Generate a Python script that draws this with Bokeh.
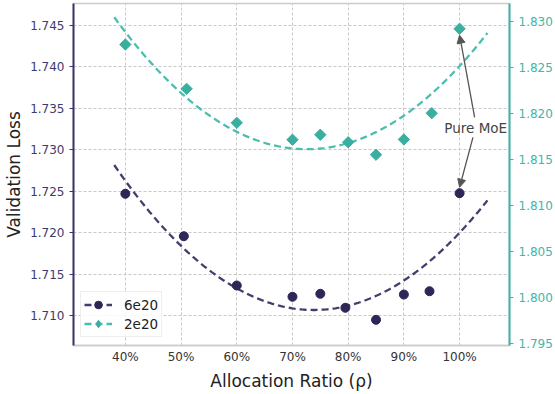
import numpy as np
from bokeh.plotting import figure
from bokeh.models import (Range1d, LinearAxis, FixedTicker, PrintfTickFormatter,
                          Legend, LegendItem, Label, Arrow, NormalHead)
from bokeh.embed import file_html
from bokeh.resources import INLINE

# ---- data ----
ratio_6e20 = [40, 50.5, 60, 70, 75, 79.5, 85, 90, 94.6, 100]
loss_6e20 = [1.72469, 1.71957, 1.71362, 1.71226, 1.71262, 1.71093, 1.70948, 1.71253, 1.71293, 1.72476]
ratio_2e20 = [40, 51, 60, 70, 75, 80, 85, 90, 95, 100]
loss_2e20 = [1.82750, 1.82269, 1.81900, 1.81716, 1.81770, 1.81689, 1.81553, 1.81719, 1.82004, 1.82921]
x_ticks = [40, 50, 60, 70, 80, 90, 100]
x_tick_labels = ["40%", "50%", "60%", "70%", "80%", "90%", "100%"]
left_ticks = [1.710, 1.715, 1.720, 1.725, 1.730, 1.735, 1.740, 1.745]
right_ticks = [1.795, 1.800, 1.805, 1.810, 1.815, 1.820, 1.825, 1.830]
fit_span = [38, 105]

DARK = "#2f2557"
DARK_LINE = "#463d6e"
TEAL = "#3aafa0"
TEAL_LINE = "#4dbdb0"
FONT = "DejaVu Sans"

p = figure(width=555, height=394, output_backend="svg", toolbar_location=None,
           x_range=Range1d(30.69, 108.96), y_range=Range1d(1.706379, 1.747655),
           min_border_left=73, min_border_right=45, min_border_top=3, min_border_bottom=49)
p.extra_y_ranges = {"right": Range1d(1.794815, 1.831954)}
p.outline_line_color = "#cccccc"
p.outline_line_width = 1.5

# grid
p.xgrid.ticker = FixedTicker(ticks=x_ticks)
p.ygrid.ticker = FixedTicker(ticks=left_ticks)
for g in (p.xgrid, p.ygrid):
    g.grid_line_color = "#c8c8c8"
    g.grid_line_dash = "3 2"
    g.grid_line_width = 1

# bottom axis
xa = p.xaxis[0]
xa.ticker = FixedTicker(ticks=x_ticks)
xa.major_label_overrides = {t: l for t, l in zip(x_ticks, x_tick_labels)}
xa.axis_line_color = "#cccccc"
xa.axis_line_width = 1.5
xa.major_tick_line_color = None
xa.major_tick_out = 0
xa.major_tick_in = 0
xa.minor_tick_line_color = None
xa.minor_tick_out = 0
xa.major_label_standoff = 4
xa.major_label_text_font = FONT
xa.major_label_text_font_size = "12px"
xa.major_label_text_color = "#333333"
xa.axis_label = "Allocation Ratio (ρ)"
xa.axis_label_text_font = FONT
xa.axis_label_text_font_size = "17px"
xa.axis_label_text_font_style = "normal"
xa.axis_label_text_color = "#222222"
xa.axis_label_standoff = 4

# left axis
ya = p.yaxis[0]
ya.ticker = FixedTicker(ticks=left_ticks)
ya.formatter = PrintfTickFormatter(format="%.3f")
ya.axis_line_color = "#3d3466"
ya.axis_line_width = 2
ya.major_tick_line_color = "#3d3466"
ya.major_tick_out = 4
ya.major_tick_in = 0
ya.minor_tick_line_color = None
ya.minor_tick_out = 0
ya.major_label_standoff = 5
ya.major_label_text_font = FONT
ya.major_label_text_font_size = "12px"
ya.major_label_text_color = "#3d3a6b"
ya.axis_label = "Validation Loss"
ya.axis_label_text_font = FONT
ya.axis_label_text_font_size = "17px"
ya.axis_label_text_font_style = "normal"
ya.axis_label_text_color = "#222222"
ya.axis_label_standoff = 3

# right axis
ra = LinearAxis(y_range_name="right", ticker=FixedTicker(ticks=right_ticks),
                formatter=PrintfTickFormatter(format="%.3f"), axis_label=None)
ra.axis_line_color = "#45b0a5"
ra.axis_line_width = 2
ra.major_tick_line_color = "#45b0a5"
ra.major_tick_out = 4
ra.major_tick_in = 0
ra.minor_tick_line_color = None
ra.minor_tick_out = 0
ra.major_label_standoff = 5
ra.major_label_text_font = FONT
ra.major_label_text_font_size = "12px"
ra.major_label_text_color = "#45b5a8"
p.add_layout(ra, "right")

# fits
xs = np.linspace(fit_span[0], fit_span[1], 200)
c6 = np.polyfit(ratio_6e20, loss_6e20, 2)
c2 = np.polyfit(ratio_2e20, loss_2e20, 2)
l6 = p.line(xs, np.polyval(c6, xs), line_color=DARK_LINE, line_width=2.3, line_dash="7 4")
l2 = p.line(xs, np.polyval(c2, xs), line_color=TEAL_LINE, line_width=2.3, line_dash="7 4",
            y_range_name="right")
s6 = p.scatter(ratio_6e20, loss_6e20, marker="circle", size=9, fill_color=DARK, line_color=DARK)
s2 = p.scatter(ratio_2e20, loss_2e20, marker="square", size=8, angle=np.pi / 4,
               fill_color=TEAL, line_color=TEAL, y_range_name="right")
# legend-only diamond glyph (a NaN point, never drawn in the plot)
s2_leg = p.scatter([np.nan], [np.nan], marker="diamond", fill_color=TEAL, line_color=TEAL,
                   y_range_name="right")

legend = Legend(items=[LegendItem(label="6e20", renderers=[l6, s6]),
                       LegendItem(label="2e20", renderers=[l2, s2_leg])],
                location=(7, 8))
legend.label_text_font = FONT
legend.label_text_font_size = "13.5px"
legend.label_text_color = "#222222"
legend.glyph_width = 28
legend.glyph_height = 19
legend.label_standoff = 12
legend.padding = 3
legend.spacing = 0
legend.margin = 0
legend.border_line_color = "#dddddd"
legend.border_line_width = 1
legend.background_fill_alpha = 0.85
p.add_layout(legend, "center")

# annotation
ARROW = "#555555"
p.add_layout(Label(x=102.9, y=1.7326, text="Pure MoE", text_align="center",
                   text_baseline="middle", text_font=FONT, text_font_size="13.5px",
                   text_color="#444444"))
p.add_layout(Arrow(end=NormalHead(size=8, fill_color=ARROW, line_color=ARROW),
                   x_start=102.7, y_start=1.8196, x_end=ratio_2e20[-1], y_end=loss_2e20[-1] - 0.0007,
                   y_range_name="right", line_color=ARROW, line_width=1.3))
p.add_layout(Arrow(end=NormalHead(size=8, fill_color=ARROW, line_color=ARROW),
                   x_start=102.4, y_start=1.7315, x_end=ratio_6e20[-1], y_end=loss_6e20[-1] + 0.00072,
                   line_color=ARROW, line_width=1.3))

open("out.html", "w").write(file_html(p, INLINE))
